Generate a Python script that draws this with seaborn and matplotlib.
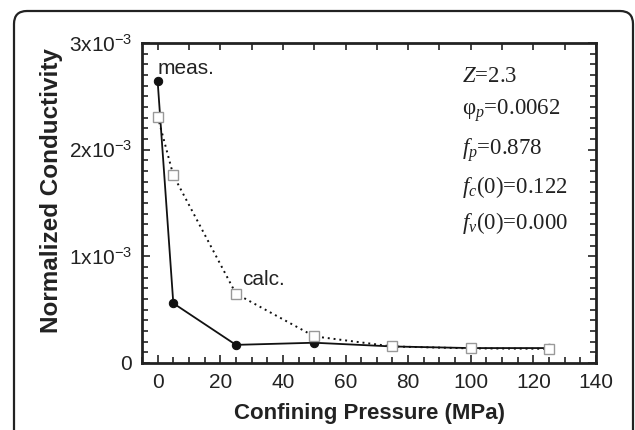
import numpy as np
import pandas as pd
import matplotlib
matplotlib.use("Agg")
import matplotlib.pyplot as plt
import matplotlib.ticker as mticker
from matplotlib.patches import FancyBboxPatch
from matplotlib.transforms import IdentityTransform
import seaborn as sns

# data
pressure_meas = [0, 5, 25, 50, 75, 100, 125]
cond_meas = [2.64e-3, 0.56e-3, 0.17e-3, 0.19e-3, 0.155e-3, 0.14e-3, 0.14e-3]
pressure_calc = [0, 5, 25, 50, 75, 100, 125]
cond_calc = [2.31e-3, 1.76e-3, 0.65e-3, 0.25e-3, 0.155e-3, 0.137e-3, 0.133e-3]

y_ticks = [0, 1e-3, 2e-3, 3e-3]
y_ticklabels = ["0", "1x10$^{-3}$", "2x10$^{-3}$", "3x10$^{-3}$"]
params = ["$Z$=2.3", "φ$_{p}$=0.0062", "$f_{p}$=0.878", "$f_{c}$(0)=0.122", "$f_{v}$(0)=0.000"]

sns.set_style("ticks")
plt.rcParams["font.family"] = ["Liberation Sans", "DejaVu Sans"]
plt.rcParams["mathtext.fontset"] = "custom"
plt.rcParams["mathtext.rm"] = "Liberation Sans"
plt.rcParams["mathtext.it"] = "Liberation Serif:italic"
plt.rcParams["xtick.direction"] = "in"
plt.rcParams["ytick.direction"] = "in"

fig = plt.figure(figsize=(6.35, 4.3), dpi=100)
ax = fig.add_axes([142 / 635, 67 / 430, 454 / 635, 320 / 430])

meas_df = pd.DataFrame({"p": pressure_meas, "c": cond_meas})
calc_df = pd.DataFrame({"p": pressure_calc, "c": cond_calc})

sns.lineplot(data=meas_df, x="p", y="c", ax=ax, color="#111111", linewidth=1.3,
             marker="o", markersize=6, markerfacecolor="#111111",
             markeredgecolor="#111111", zorder=3)
sns.lineplot(data=calc_df, x="p", y="c", ax=ax, color="#111111", linestyle=(0, (1, 2)),
             linewidth=1.4, marker="s", markersize=7.5, markerfacecolor="white",
             markeredgecolor="#999999", markeredgewidth=1.0, zorder=4)

ax.set_xlim(-5, 140)
ax.set_ylim(0, 3e-3)
ax.set_xticks(range(0, 141, 20))
ax.xaxis.set_minor_locator(mticker.MultipleLocator(5))
ax.set_yticks(y_ticks)
ax.set_yticklabels(y_ticklabels)
ax.yaxis.set_minor_locator(mticker.MultipleLocator(1e-4))

ax.tick_params(which="both", right=True, width=1.2, colors="#222222", labelcolor="#222222")
ax.tick_params(which="major", length=6, labelsize=15, pad=7)
ax.tick_params(which="minor", length=4)

top = ax.secondary_xaxis("top")
top.set_xticks(range(0, 141, 10))
top.tick_params(direction="in", length=5, width=1.2, labeltop=False, colors="#222222")
top.spines["top"].set_visible(False)

for s in ax.spines.values():
    s.set_linewidth(2)
    s.set_color("#222222")

ax.set_xlabel("Confining Pressure (MPa)", fontsize=16, fontweight="bold", color="#222222")
ax.set_ylabel("Normalized Conductivity", fontsize=17.5, fontweight="bold", color="#222222")
ax.xaxis.set_label_coords(0.5, -0.158)
ax.yaxis.set_label_coords(-0.2, 0.54)
ax.xaxis.label.set_va("center")
ax.yaxis.label.set_va("center")

ax.text(0, 2.76e-3, "meas.", fontsize=15, color="#222222", ha="left", va="center")
ax.text(27, 0.78e-3, "calc.", fontsize=15, color="#222222", ha="left", va="center")

y_pos = [77, 111, 150, 187, 223]
for txt, yp in zip(params, y_pos):
    fig.text(462 / 635, 1 - yp / 430, txt, fontsize=16.5, family="Liberation Serif",
             color="#222222", ha="left", va="center")

frame = FancyBboxPatch((14, -30), 619, 449, boxstyle="round,pad=0,rounding_size=13",
                       transform=IdentityTransform(), fill=False, edgecolor="#222222",
                       linewidth=1.6, clip_on=False)
fig.patches.append(frame)

fig.savefig("out.png", dpi=100)
